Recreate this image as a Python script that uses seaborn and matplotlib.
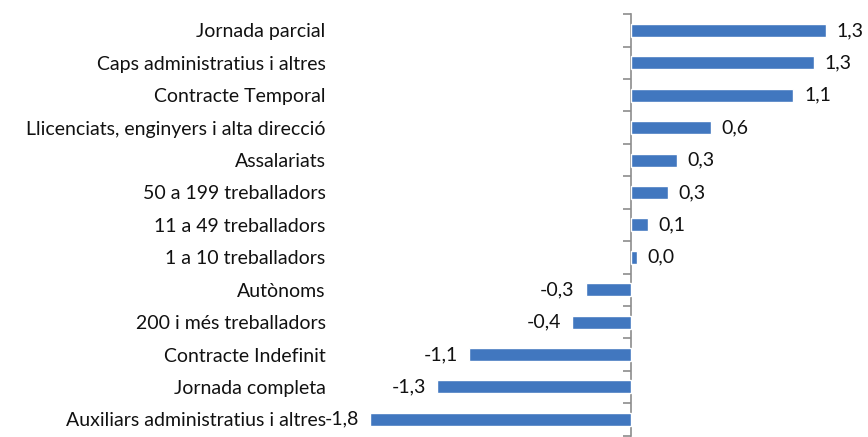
import matplotlib
matplotlib.use('Agg')
import matplotlib.pyplot as plt
import seaborn as sns
import pandas as pd

categories = ['Jornada parcial', 'Caps administratius i altres', 'Contracte Temporal',
              'Llicenciats, enginyers i alta direcció', 'Assalariats', '50 a 199 treballadors',
              '11 a 49 treballadors', '1 a 10 treballadors', 'Autònoms', '200 i més treballadors',
              'Contracte Indefinit', 'Jornada completa', 'Auxiliars administratius i altres']
values = [1.345, 1.262, 1.12, 0.552, 0.317, 0.255, 0.117, 0.041,
          -0.31, -0.407, -1.117, -1.338, -1.8]

df = pd.DataFrame({'cat': categories, 'val': values})

sns.set_style('white')
plt.rcParams['font.family'] = ['Lato', 'DejaVu Sans']

fig = plt.figure(figsize=(8.68, 4.37), dpi=100)
ax = fig.add_axes([341 / 868, 1.5 / 437, (848 - 341) / 868, (435.5 - 14.3) / 437])

sns.barplot(data=df, x='val', y='cat', orient='h', color='#4177BF',
            width=0.4, saturation=1, ax=ax)

xmin, xmax = -2.0, 1.5
ax.set_xlim(xmin, xmax)
ax.set_ylim(len(categories) - 0.5, -0.5)
ax.set_xlabel('')
ax.set_ylabel('')
ax.set_xticks([])
for s in ax.spines.values():
    s.set_visible(False)
ax.tick_params(axis='y', length=0, pad=11, labelsize=14, labelcolor='#111111')

# zero axis with tick marks between categories (ticks point left)
sec = ax.secondary_yaxis((0 - xmin) / (xmax - xmin))
sec.set_yticks([i - 0.5 for i in range(len(categories) + 1)])
sec.set_yticklabels([])
sec.tick_params(length=6, width=1.2, color='#8c8c8c', direction='in')
for s in sec.spines.values():
    s.set_color('#8c8c8c')
    s.set_linewidth(1.2)

ax.bar_label(ax.containers[0], fmt=lambda v: f'{v:.1f}'.replace('.', ','),
             padding=8, fontsize=14, color='#111111')

fig.savefig('out.png', dpi=100)
